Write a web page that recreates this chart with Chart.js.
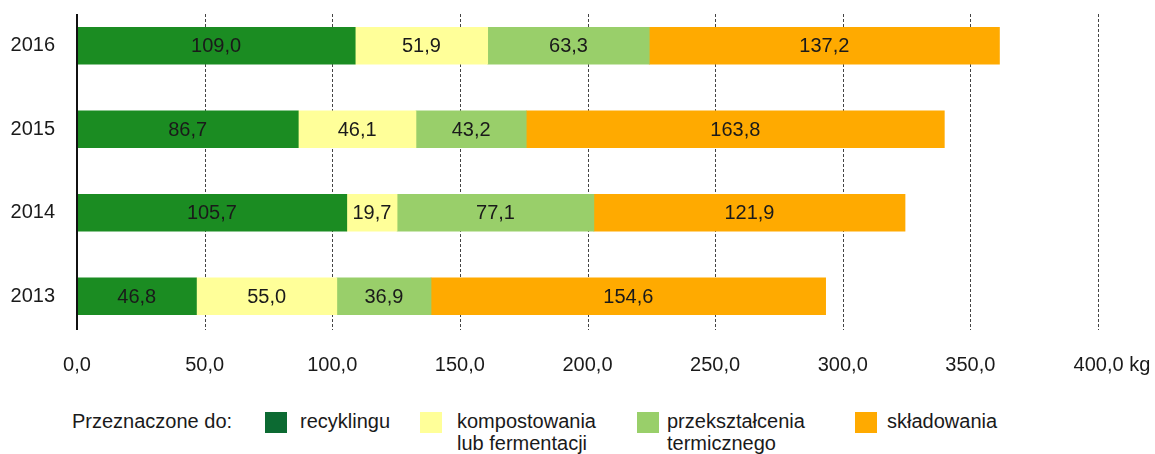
<!DOCTYPE html>
<html>
<head>
<meta charset="utf-8">
<script src="https://cdn.jsdelivr.net/npm/chart.js@4/dist/chart.umd.min.js"></script>
<style>
  html, body { margin: 0; padding: 0; background: #fff; }
  body { width: 1155px; height: 454px; position: relative; overflow: hidden; font-family: "Liberation Sans", Arial, sans-serif; color: #1a1a1a; }
  #wrap { position: absolute; left: 0; top: 0; width: 1155px; height: 398px; }
  .legend { position: absolute; top: 410px; left: 0; width: 1155px; font-size: 20px; line-height: 22px; }
  .legend .lbl { position: absolute; top: 0; white-space: nowrap; }
  .legend .sw { position: absolute; top: 2px; width: 22px; height: 21px; }
</style>
</head>
<body>
<div id="wrap"><canvas id="chart"></canvas></div>
<div class="legend" id="legend"></div>
<script>
const years = ['2016', '2015', '2014', '2013'];
const recykling = [109.0, 86.7, 105.7, 46.8];
const kompostowanie = [51.9, 46.1, 19.7, 55.0];
const przeksztalcenie = [63.3, 43.2, 77.1, 36.9];
const skladowanie = [137.2, 163.8, 121.9, 154.6];
const xTicks = [0, 50, 100, 150, 200, 250, 300, 350, 400];

const seriesNames = ['recyklingu', 'kompostowania\nlub fermentacji', 'przekształcenia\ntermicznego', 'składowania'];
const barColors = ['#1b8c22', '#ffff99', '#99cf6a', '#ffaa00'];
const swatchColors = ['#0c6a32', '#ffff99', '#99cf6a', '#ffaa00'];

const FONT = '"Liberation Sans", Arial, sans-serif';
const fmt = v => v.toFixed(1).replace('.', ',');

const gridPlugin = {
  id: 'dashGrid',
  beforeDatasetsDraw(chart) {
    const ctx = chart.ctx;
    const x = chart.scales.x;
    const top = 14, bottom = 330;
    ctx.save();
    ctx.strokeStyle = '#444';
    ctx.lineWidth = 1;
    ctx.setLineDash([3, 2]);
    xTicks.slice(1).forEach(v => {
      const px = Math.round(x.getPixelForValue(v)) + 0.5;
      ctx.beginPath();
      ctx.moveTo(px, top);
      ctx.lineTo(px, bottom);
      ctx.stroke();
    });
    ctx.restore();
  },
  afterDatasetsDraw(chart) {
    const ctx = chart.ctx;
    const x = chart.scales.x;
    ctx.save();
    // axis line at zero
    ctx.strokeStyle = '#111';
    ctx.lineWidth = 2;
    ctx.beginPath();
    ctx.moveTo(x.getPixelForValue(0), 14);
    ctx.lineTo(x.getPixelForValue(0), 330);
    ctx.stroke();

    // value labels
    ctx.fillStyle = '#1a1a1a';
    ctx.font = '20px ' + FONT;
    ctx.textAlign = 'center';
    ctx.textBaseline = 'middle';
    chart.data.datasets.forEach((ds, di) => {
      chart.getDatasetMeta(di).data.forEach((bar, i) => {
        const cx = (bar.x + bar.base) / 2;
        ctx.fillText(fmt(ds.data[i]), cx, bar.y + 1);
      });
    });
    ctx.restore();
  },
};

const values = [recykling, kompostowanie, przeksztalcenie, skladowanie];

new Chart(document.getElementById('chart'), {
  type: 'bar',
  data: {
    labels: years,
    datasets: values.map((d, i) => ({
      label: seriesNames[i],
      data: d,
      backgroundColor: barColors[i],
      borderWidth: 0,
      barThickness: 37,
    })),
  },
  options: {
    indexAxis: 'y',
    responsive: true,
    maintainAspectRatio: false,
    animation: false,
    layout: { padding: { top: 4, right: 0, left: 0, bottom: 0 } },
    scales: {
      x: {
        stacked: true,
        min: 0,
        max: 400,
        grid: { display: false, drawTicks: false },
        border: { display: false },
        afterFit: s => { s.height = 60; s.paddingRight = 57; s.paddingLeft = 0; },
        afterBuildTicks: s => { s.ticks = xTicks.map(v => ({ value: v })); },
        ticks: {
          padding: 15,
          color: '#1a1a1a',
          font: { family: FONT, size: 20 },
          maxRotation: 0,
          // pad left so that "400,0" stays near its gridline
          callback: v => v === 400 ? '     ' + fmt(v) + ' kg' : fmt(v),
        },
      },
      y: {
        stacked: true,
        grid: { display: false, drawTicks: false },
        border: { display: false },
        afterFit: s => { s.width = 77; s.paddingTop = 0; s.paddingBottom = 0; },
        ticks: {
          padding: 22,
          color: '#1a1a1a',
          font: { family: FONT, size: 20 },
        },
      },
    },
    plugins: {
      legend: { display: false },
      tooltip: { enabled: false },
    },
  },
  plugins: [gridPlugin],
});

// legend
const legend = document.getElementById('legend');
const swatchX = [265, 420, 637, 855];
const textX = [300, 457, 667, 887];
legend.innerHTML = `<div class="lbl" style="left:72px">Przeznaczone do:</div>` +
  seriesNames.map((n, i) => `
    <div class="sw" style="left:${swatchX[i]}px;background:${swatchColors[i]}"></div>
    <div class="lbl" style="left:${textX[i]}px">${n.replace('\n', '<br>')}</div>
  `).join('');
</script>
</body>
</html>
